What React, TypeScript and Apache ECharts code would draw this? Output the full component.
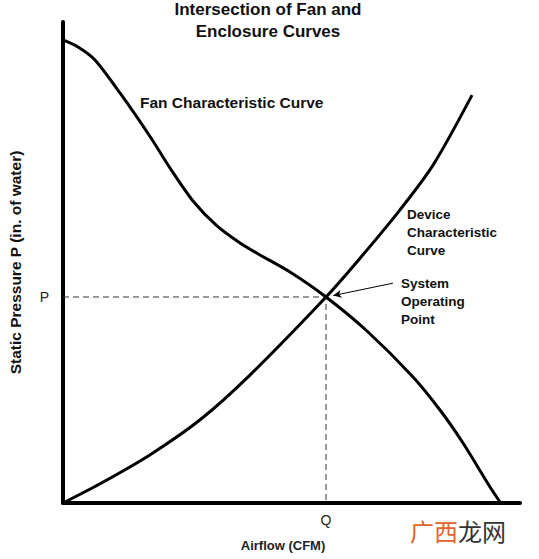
import React, { useEffect, useRef } from "react";
import * as echarts from "echarts";

// Data (x: airflow, y: static pressure; arbitrary 0-100 units)
const fanX = [0, 3.28, 7.0, 12.47, 19.26, 23.41, 28.45, 33.7, 38.73, 43.11, 49.67, 57.55, 66.52, 76.59, 82.49, 87.53, 93.44, 95.62];
const fanY = [96.26, 94.8, 92.1, 85.24, 75.88, 69.65, 62.79, 57.59, 54.05, 51.56, 48.02, 42.83, 35.76, 26.2, 19.33, 12.47, 3.33, 0.21];
const deviceX = [0, 8.1, 19.0, 30.0, 40.9, 57.55, 65.0, 73.7, 81.0, 89.5];
const deviceY = [0, 4.0, 10.0, 17.3, 26.6, 42.83, 50.9, 60.9, 70.3, 84.8];
const operatingPoint = [57.55, 42.83];
const arrowStart = [72.2, 45.7];
const tickLabelX = "Q";
const tickLabelY = "P";
const titleLines = ["Intersection of Fan and", "Enclosure Curves"];

const FONT = "'Liberation Sans', Arial, sans-serif";

export default function App() {
  const ref = useRef<HTMLDivElement>(null);
  useEffect(() => {
    if (!ref.current) return;
    const chart = echarts.init(ref.current, null, { renderer: "svg" });
    const fan = fanX.map((x, i) => [x, fanY[i]]);
    const device = deviceX.map((x, i) => [x, deviceY[i]]);
    const [qx, py] = operatingPoint;
    chart.setOption({
      animation: false,
      backgroundColor: "#fff",
      textStyle: { fontFamily: FONT },
      grid: { left: 63, top: 22, right: 19, bottom: 56, containLabel: false, outerBoundsMode: "none" },
      xAxis: {
        type: "value",
        min: 0,
        max: 100,
        axisLine: { show: true, onZero: false, lineStyle: { color: "#000", width: 4 } },
        axisTick: { show: false },
        splitLine: { show: false },
        axisLabel: {
          customValues: [qx],
          formatter: () => tickLabelX,
          color: "#222",
          fontSize: 14,
          margin: 10,
          fontFamily: FONT,
        },
      },
      yAxis: {
        type: "value",
        min: 0,
        max: 100,
        name: "Static Pressure P (in. of water)",
        nameLocation: "middle",
        nameGap: 40,
        nameTextStyle: { color: "#111", fontSize: 15.5, fontWeight: "bold", fontFamily: FONT },
        axisLine: { show: true, onZero: false, lineStyle: { color: "#000", width: 4 } },
        axisTick: { show: false },
        splitLine: { show: false },
        axisLabel: {
          customValues: [py],
          formatter: () => tickLabelY,
          color: "#222",
          fontSize: 14,
          margin: 14,
          fontFamily: FONT,
        },
      },
      series: [
        {
          type: "line",
          data: fan,
          smooth: 0.25,
          symbol: "none",
          lineStyle: { color: "#000", width: 3 },
          z: 3,
        },
        {
          type: "line",
          data: device,
          smooth: 0.3,
          symbol: "none",
          lineStyle: { color: "#000", width: 3 },
          z: 3,
        },
        {
          type: "line",
          data: [[0, py], [qx, py], [qx, 0]],
          symbol: "none",
          lineStyle: { color: "#333", width: 1, type: [6, 4] },
          z: 2,
          markLine: {
            silent: true,
            symbol: ["none", "arrow"],
            symbolSize: [6, 8],
            label: { show: false },
            lineStyle: { color: "#000", width: 1, type: "solid" },
            data: [[{ coord: arrowStart }, { coord: [qx + 1.6, py + 0.3] }]],
          },
        },
      ],
      graphic: [
        {
          type: "text",
          x: 268,
          y: 9,
          style: {
            text: titleLines[0],
            align: "center",
            verticalAlign: "middle",
            fontSize: 17,
            fontWeight: "bold",
            fill: "#111",
            fontFamily: FONT,
          },
        },
        {
          type: "text",
          x: 268,
          y: 31,
          style: {
            text: titleLines[1],
            align: "center",
            verticalAlign: "middle",
            fontSize: 17,
            fontWeight: "bold",
            fill: "#111",
            fontFamily: FONT,
          },
        },
        {
          type: "text",
          x: 140,
          y: 102,
          style: {
            text: "Fan Characteristic Curve",
            verticalAlign: "middle",
            fontSize: 15.5,
            fontWeight: "bold",
            fill: "#111",
            fontFamily: FONT,
          },
        },
        {
          type: "text",
          x: 407,
          y: 205,
          style: {
            text: "Device\nCharacteristic\nCurve",
            fontSize: 13.5,
            fontWeight: "bold",
            lineHeight: 18,
            fill: "#111",
            fontFamily: FONT,
          },
        },
        {
          type: "text",
          x: 401,
          y: 274,
          style: {
            text: "System\nOperating\nPoint",
            fontSize: 13.5,
            fontWeight: "bold",
            lineHeight: 18,
            fill: "#111",
            fontFamily: FONT,
          },
        },
        {
          type: "text",
          x: 283,
          y: 545,
          style: {
            text: "Airflow (CFM)",
            align: "center",
            verticalAlign: "middle",
            fontSize: 13,
            fontWeight: "bold",
            fill: "#222",
            fontFamily: FONT,
          },
        },
        {
          type: "text",
          x: 410,
          y: 530,
          style: {
            text: "{a|广西}{b|龙网}",
            verticalAlign: "middle",
            rich: {
              a: { fontSize: 24, fill: "#e0642c", fontFamily: "'Noto Sans CJK SC'" },
              b: { fontSize: 24, fill: "#333", fontFamily: "'Noto Sans CJK SC'" },
            },
          },
        },
      ],
    });
    return () => chart.dispose();
  }, []);
  return <div ref={ref} style={{ width: 539, height: 559, position: "absolute", left: 0, top: 0 }} />;
}
